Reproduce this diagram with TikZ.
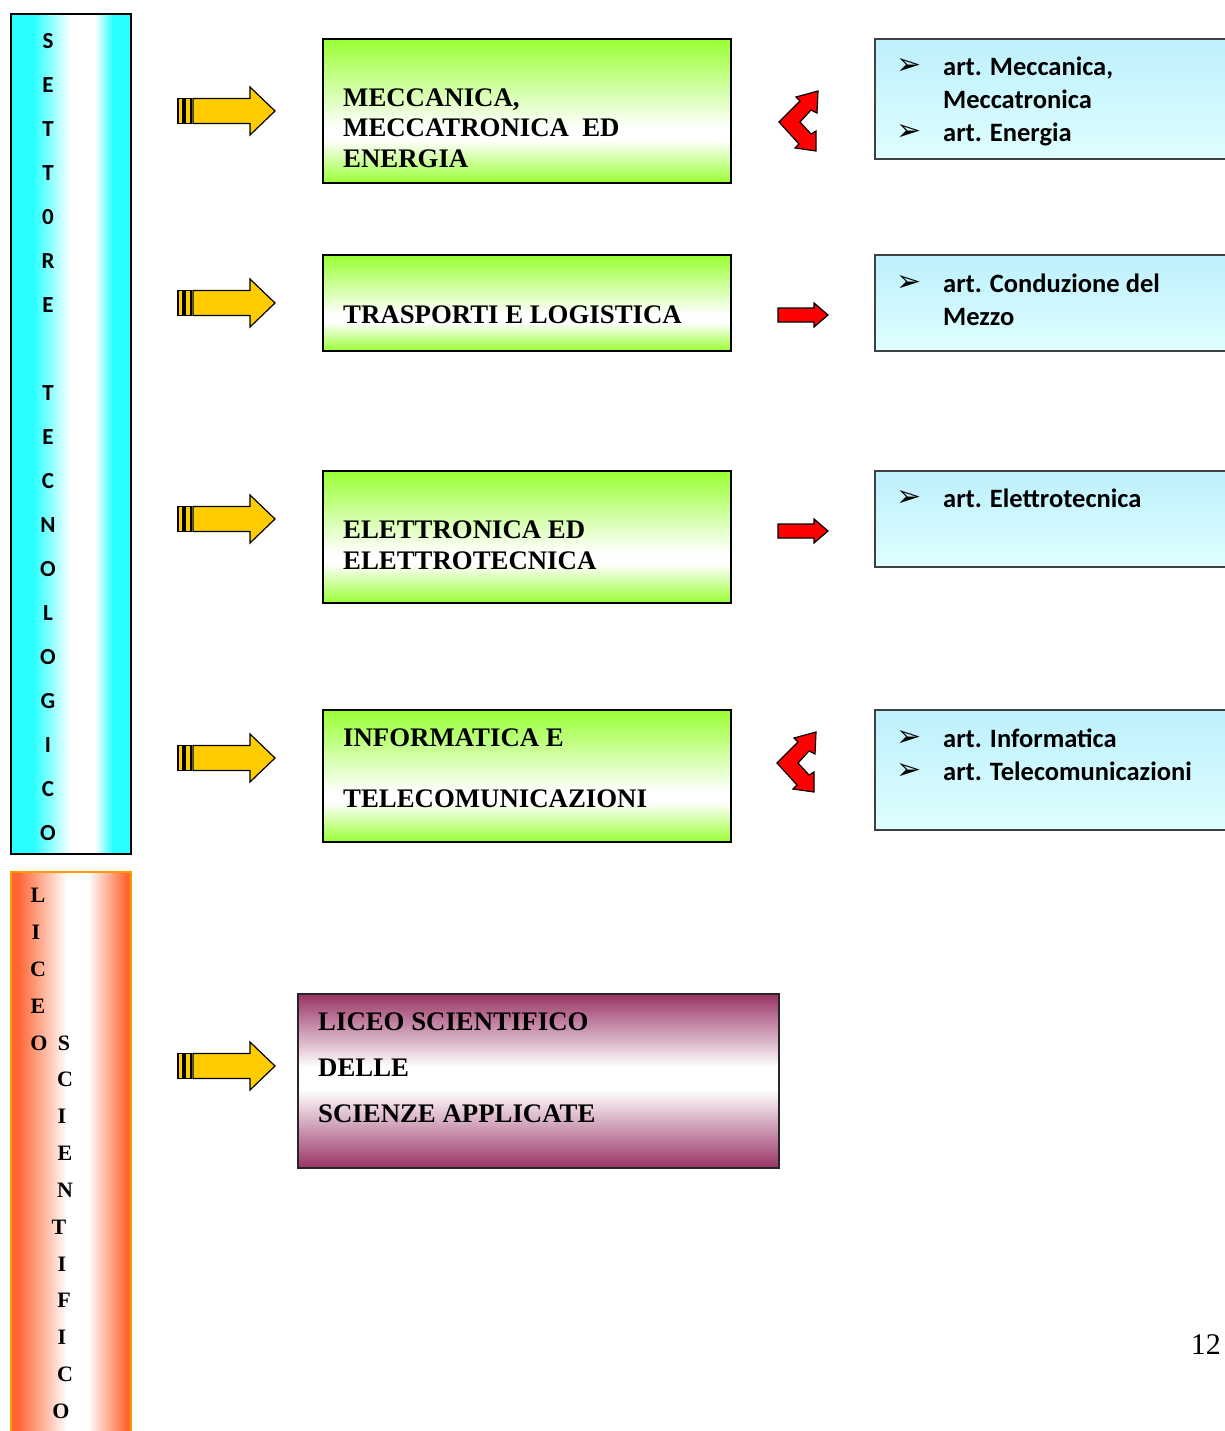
\documentclass[tikz,border=0pt]{standalone}
\usepackage{fontspec}
\setmainfont{Liberation Serif}
\newfontfamily\calfont{Carlito}
\newfontfamily\symfont{DejaVu Sans}
\usetikzlibrary{calc}
\definecolor{barcyan}{RGB}{40,255,255}
\definecolor{barorange}{RGB}{255,102,51}
\definecolor{orangeedge}{RGB}{255,153,0}
\definecolor{boxgreen}{RGB}{153,255,51}
\definecolor{boxmaroon}{RGB}{153,51,102}
\definecolor{lightcyanA}{RGB}{190,240,252}
\definecolor{lightcyanB}{RGB}{222,255,255}
\definecolor{arrowyellow}{RGB}{255,204,0}
\definecolor{arrowred}{RGB}{255,0,0}
\tikzset{
  vgrad/.style n args={3}{path picture={
    \path (path picture bounding box.north west) coordinate (pNW)
          (path picture bounding box.north east) coordinate (pNE)
          (path picture bounding box.south west) coordinate (pSW)
          (path picture bounding box.south east) coordinate (pSE);
    \fill[top color=#1,bottom color=white] (pNW) rectangle ($(pNE)!#2!(pSE)$);
    \fill[white] ($(pNW)!#2!(pSW)$) rectangle ($(pNE)!#3!(pSE)$);
    \fill[top color=white,bottom color=#1] ($(pNW)!#3!(pSW)$) rectangle (pSE);
  }},
  hgrad/.style n args={5}{path picture={
    \path (path picture bounding box.north west) coordinate (pNW)
          (path picture bounding box.north east) coordinate (pNE)
          (path picture bounding box.south west) coordinate (pSW)
          (path picture bounding box.south east) coordinate (pSE);
    \fill[#1] (pNW) rectangle ($(pSW)!#2!(pSE)$);
    \fill[left color=#1,right color=white] ($(pNW)!#2!(pNE)$) rectangle ($(pSW)!#3!(pSE)$);
    \fill[white] ($(pNW)!#3!(pNE)$) rectangle ($(pSW)!#4!(pSE)$);
    \fill[left color=white,right color=#1] ($(pNW)!#4!(pNE)$) rectangle ($(pSW)!#5!(pSE)$);
    \fill[#1] ($(pNW)!#5!(pNE)$) rectangle (pSE);
  }},
  bluebar/.style={draw=black,line width=1.6pt,inner sep=0pt,outer sep=0pt,
    minimum width=120pt,hgrad={barcyan}{0.18}{0.50}{0.70}{0.85}},
  orangebar/.style={draw=orangeedge,line width=2pt,inner sep=0pt,outer sep=0pt,
    minimum width=120pt,hgrad={barorange}{0.06}{0.47}{0.64}{0.96}},
  greenbox/.style={draw=black,line width=1.4pt,inner sep=0pt,outer sep=0pt,
    minimum width=408pt,vgrad={boxgreen}{0.62}{0.70}},
  maroonbox/.style={draw=black!85,line width=1.4pt,inner sep=0pt,outer sep=0pt,
    minimum width=481pt,minimum height=174pt,vgrad={boxmaroon}{0.42}{0.55}},
  cyanbox/.style={draw=black!75,line width=1.4pt,inner sep=0pt,outer sep=0pt,
    minimum width=365pt,top color=lightcyanA,bottom color=lightcyanB},
  barletter/.style={inner sep=0pt,font=\calfont\bfseries\fontsize{23}{23}\selectfont},
  liceoletter/.style={inner sep=0pt,font=\bfseries\fontsize{22}{22}\selectfont},
  boxtext/.style={anchor=base west,inner sep=0pt,font=\bfseries\fontsize{26.8}{30}\selectfont},
  arttext/.style={anchor=base west,inner sep=0pt,font=\calfont\bfseries\fontsize{26.5}{33}\selectfont},
  shapeline/.style={draw=black,line width=1.2pt,line join=miter},
  yarrow/.pic={
    \filldraw[shapeline,fill=arrowyellow] (0,-12.5) rectangle (5,12.5);
    \filldraw[shapeline,fill=arrowyellow] (7,-12.5) rectangle (13,12.5);
    \filldraw[shapeline,fill=arrowyellow] (15,-12.5) -- (72,-12.5) -- (72,-24) -- (97,0)
      -- (72,24) -- (72,12.5) -- (15,12.5) -- cycle;
  },
  rarrow/.pic={
    \filldraw[shapeline,fill=arrowred] (0,-7) -- (36,-7) -- (36,-12) -- (50,0)
      -- (36,12) -- (36,7) -- (0,7) -- cycle;
  },
  rchevron/.pic={
    \filldraw[shapeline,fill=arrowred] (0,0) -- (21,-21) -- (17,-25) -- (39,-31)
      -- (38,-9) -- (32,-12) -- (21,0) -- (32,12) -- (37,9) -- (37,29)
      -- (16,26) -- (20,22) -- cycle;
  },
}
\newcommand\bul{\makebox[47pt][l]{\raisebox{1pt}{\symfont\fontsize{30}{30}\selectfont ➢}}}
\begin{document}
\begin{tikzpicture}[x=1pt,y=-1pt]
\useasboundingbox (0,0) rectangle (1224,1431);

% left bars
\node[bluebar,minimum height=840pt] (setbar) at (71,434) {};
\node[orangebar,minimum height=570pt] (licbar) at (71,1157) {};

\foreach \l/\yy [count=\i] in {S/41,E/85,T/129,T/173,0/217,R/261,E/305,
  T/393,E/437,C/481,N/525,O/569,L/613,O/657,G/701,I/745,C/789,O/833}
  \node[barletter] (sl\i) at (48,\yy) {\l};

\foreach \l/\xx/\yy [count=\i] in {L/38/895,I/36/932,C/38/969,E/38/1006,O/39/1043,
  S/64/1043,C/65/1079,I/62/1116,E/65/1153,N/65/1190,T/59/1227,I/62/1264,
  F/64/1300,I/62/1337,C/65/1374,O/61/1411}
  \node[liceoletter] (ll\i) at (\xx,\yy) {\l};

% yellow arrows
\pic (ya1) at (178,111) {yarrow};
\pic (ya2) at (178,303) {yarrow};
\pic (ya3) at (178,519) {yarrow};
\pic (ya4) at (178,758) {yarrow};
\pic (ya5) at (178,1066) {yarrow};

% green boxes
\node[greenbox,minimum height=144pt] (g1) at (527,111) {};
\node[greenbox,minimum height=96pt] (g2) at (527,303) {};
\node[greenbox,minimum height=132pt] (g3) at (527,537) {};
\node[greenbox,minimum height=132pt] (g4) at (527,776) {};

\node[boxtext] (g1a) at (343,107) {MECCANICA,};
\node[boxtext] (g1b) at (343,137) {MECCATRONICA\ \ ED};
\node[boxtext] (g1c) at (343,168) {ENERGIA};
\node[boxtext] (g2a) at (343,323) {TRASPORTI E LOGISTICA};
\node[boxtext] (g3a) at (343,538) {ELETTRONICA ED};
\node[boxtext] (g3b) at (343,569) {ELETTROTECNICA};
\node[boxtext] (g4a) at (343,746) {INFORMATICA E};
\node[boxtext] (g4b) at (343,807) {TELECOMUNICAZIONI};

% red arrows
\pic (ra1) at (779,122) {rchevron};
\pic (ra2) at (778,315) {rarrow};
\pic (ra3) at (778,531) {rarrow};
\pic (ra4) at (777,763) {rchevron};

% right boxes
\node[cyanbox,minimum height=120pt] (r1) at (1057.5,99) {};
\node[cyanbox,minimum height=96pt] (r2) at (1057.5,303) {};
\node[cyanbox,minimum height=96pt] (r3) at (1057.5,519) {};
\node[cyanbox,minimum height=120pt] (r4) at (1057.5,770) {};

\node[arttext] (r1a) at (896,76) {\bul art. Meccanica,};
\node[arttext] (r1b) at (896,109) {\hspace{47pt}Meccatronica};
\node[arttext] (r1c) at (896,142) {\bul art. Energia};
\node[arttext] (r2a) at (896,292) {\bul art. Conduzione del};
\node[arttext] (r2b) at (896,325) {\hspace{47pt}Mezzo};
\node[arttext] (r3a) at (896,507) {\bul art. Elettrotecnica};
\node[arttext] (r4a) at (896,747) {\bul art. Informatica};
\node[arttext] (r4b) at (896,780) {\bul art. Telecomunicazioni};

% liceo box
\node[maroonbox] (m1) at (538.5,1081) {};
\node[boxtext] (m1a) at (318,1030) {LICEO SCIENTIFICO};
\node[boxtext] (m1b) at (318,1076) {DELLE};
\node[boxtext] (m1c) at (318,1122) {SCIENZE APPLICATE};

% page number
\node[anchor=base east,inner sep=0pt,font=\fontsize{30}{30}\selectfont] (pg) at (1221,1354) {12};
\end{tikzpicture}
\end{document}
